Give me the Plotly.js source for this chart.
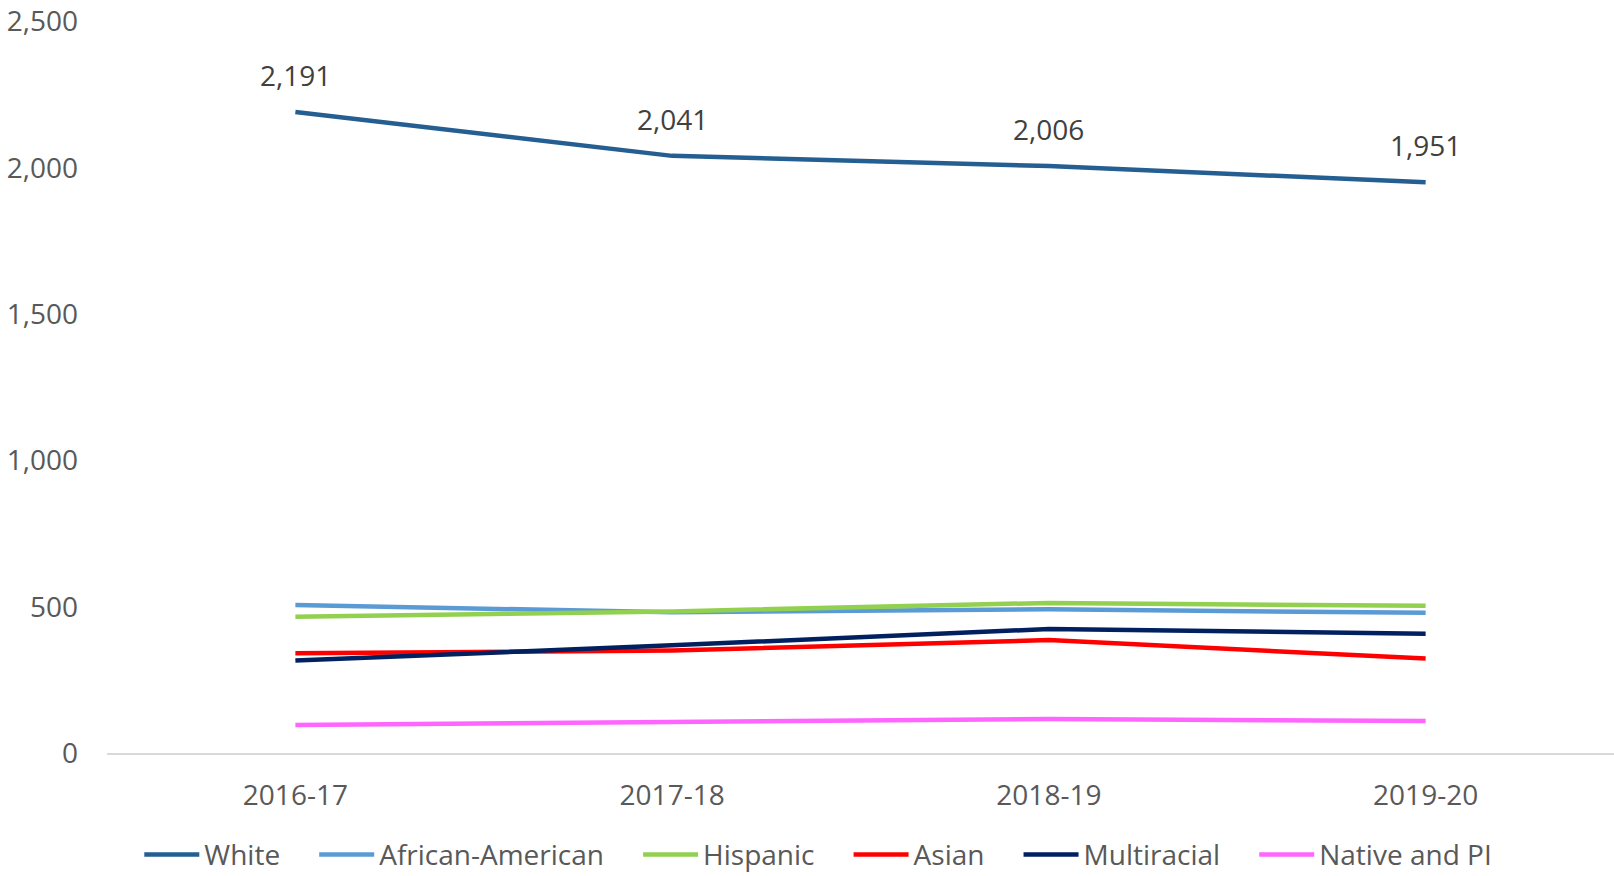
<!DOCTYPE html>
<html>
<head>
<meta charset="utf-8">
<script src="https://cdn.plot.ly/plotly-3.0.1.min.js"></script>
<style>html,body{margin:0;padding:0;background:#fff;}#chart{width:1614px;height:876px;}</style>
</head>
<body>
<div id="chart"></div>
<script>
const years = ["2016-17", "2017-18", "2018-19", "2019-20"];
const white = [2191, 2041, 2006, 1951];
const africanAmerican = [506, 481, 491, 479];
const hispanic = [466, 484, 513, 503];
const asian = [341, 350, 386, 323];
const multiracial = [316, 368, 424, 408];
const nativePI = [96, 105, 116, 109];
const yTicks = [0, 500, 1000, 1500, 2000, 2500];

const seriesNames = ["White", "African-American", "Hispanic", "Asian", "Multiracial", "Native and PI"];
const seriesValues = [white, africanAmerican, hispanic, asian, multiracial, nativePI];
const seriesColors = ["#255E91", "#5B9BD5", "#92D050", "#FF0000", "#002060", "#FF66FF"];

const FONT = "Open Sans, Liberation Sans, sans-serif";
const PAD = "\u00a0\u00a0\u00a0\u00a0";

const traces = seriesNames.map((n, i) => ({
  type: "scatter",
  mode: "lines",
  name: i < seriesNames.length - 1 ? n + PAD : n,
  x: years,
  y: seriesValues[i],
  line: {color: seriesColors[i], width: 4.5},
  hoverinfo: "skip"
}));

const annotations = years.map((yr, i) => ({
  x: yr,
  y: white[i],
  xref: "x",
  yref: "y",
  text: white[i].toLocaleString("en-US"),
  showarrow: false,
  yshift: 37,
  font: {family: FONT, size: 28, color: "#404040"}
}));

const layout = {
  width: 1614,
  height: 876,
  paper_bgcolor: "#ffffff",
  plot_bgcolor: "#ffffff",
  margin: {l: 107, r: 0, t: 21, b: 123, autoexpand: false},
  showlegend: true,
  font: {family: FONT, size: 28, color: "#595959"},
  xaxis: {
    type: "category",
    range: [-0.5, 3.5],
    showgrid: false,
    zeroline: false,
    showline: true,
    linecolor: "#D9D9D9",
    linewidth: 2,
    ticks: "",
    ticklabelstandoff: 16,
    tickfont: {family: FONT, size: 28, color: "#595959"}
  },
  yaxis: {
    range: [0, 2502],
    tickvals: yTicks,
    ticktext: yTicks.map(v => v.toLocaleString("en-US")),
    showgrid: false,
    zeroline: false,
    showline: false,
    ticks: "",
    ticklabelstandoff: 28,
    ticklabeloverflow: "allow",
    automargin: false,
    tickfont: {family: FONT, size: 28, color: "#595959"}
  },
  legend: {
    orientation: "h",
    x: 0.472,
    xanchor: "center",
    y: -0.139,
    yanchor: "middle",
    itemwidth: 55,
    tracegroupgap: 0,
    font: {family: FONT, size: 28, color: "#595959"}
  },
  annotations: annotations
};

Plotly.newPlot("chart", traces, layout, {staticPlot: true, displayModeBar: false});
</script>
</body>
</html>
